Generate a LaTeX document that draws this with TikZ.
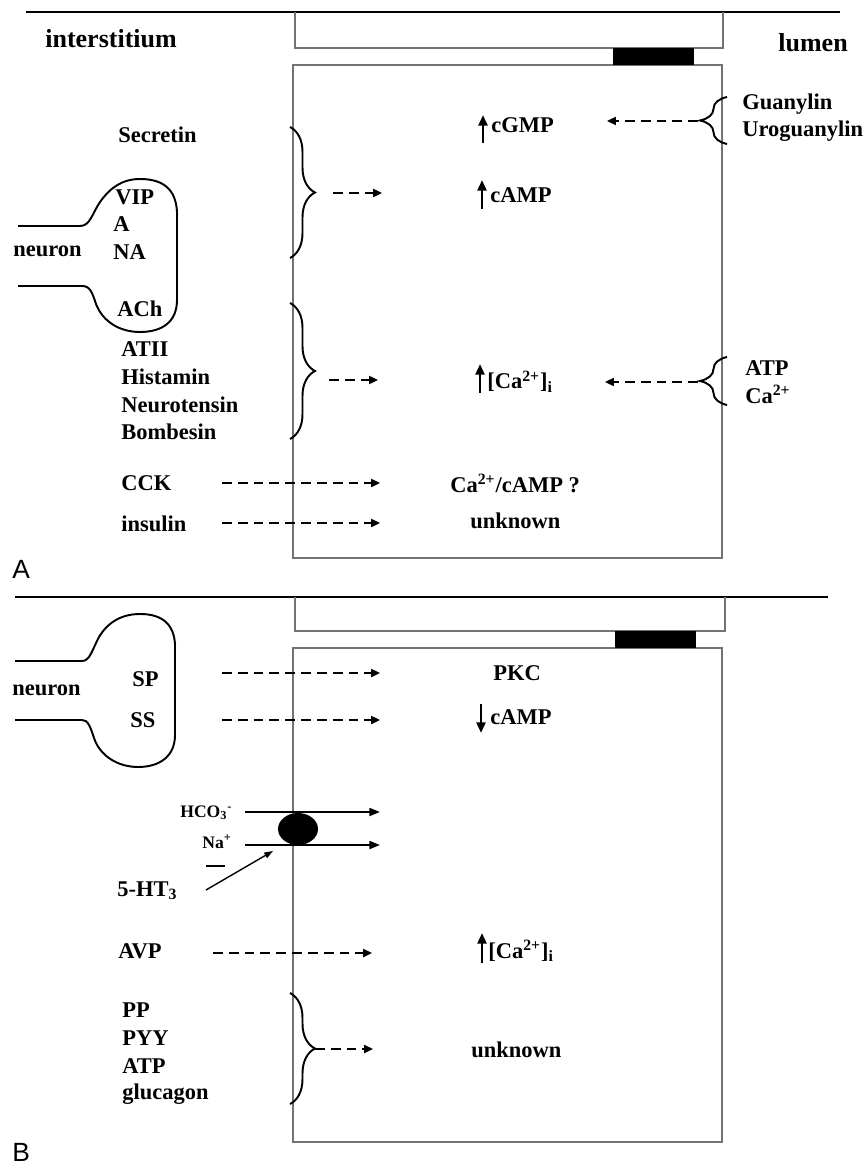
\documentclass[tikz,border=0pt]{standalone}
\usepackage{fontspec}
\setmainfont{Liberation Serif}
\newfontfamily\panelfont{Liberation Sans}
\usetikzlibrary{arrows.meta,decorations.pathreplacing}

\tikzstyle{sheet line}=[black, line width=1.2pt]
\tikzstyle{membrane}=[draw=black!55, line width=0.8pt]
\tikzstyle{junction}=[fill=black]
\tikzstyle{txt}=[inner sep=0pt, anchor=base west, font=\fontsize{12.8}{14}\selectfont\bfseries]
\tikzstyle{big txt}=[txt, font=\fontsize{14.8}{16}\selectfont\bfseries]
\tikzstyle{ion}=[txt, font=\fontsize{10}{11}\selectfont\bfseries]
\tikzstyle{panel}=[inner sep=0pt, anchor=base west, font=\fontsize{15}{17}\selectfont\panelfont]
\tikzstyle{messenger}=[dash pattern=on 5.6pt off 3.4pt, line width=1.1pt, -{Triangle[length=5pt,width=4.5pt]}]
\tikzstyle{flux}=[line width=1.1pt, -{Triangle[length=6pt,width=4.5pt]}]
\tikzstyle{rise}=[line width=1.5pt, -{Triangle[length=6pt,width=5pt]}]
\tikzstyle{group brace}=[line width=1.1pt, decorate, decoration={brace, amplitude=0.5cm}]
\tikzstyle{lumen brace}=[line width=1.1pt, decorate, decoration={brace, amplitude=0.54cm}]
\tikzstyle{neuron}=[line width=1.1pt]

\begin{document}
\begin{tikzpicture}[x=0.02cm, y=-0.02cm]
	\useasboundingbox (0,0) rectangle (865,1165);

	% Panel A: epithelium
	\draw[sheet line] (26,12) -- (840,12);
	\draw[membrane] (295,12) -- (295,48) -- (723,48) -- (723,12);
	\draw[membrane] (293,65) rectangle (722,558);
	\fill[junction] (613,48) rectangle (694,65);

	\node[big txt] (interA) at (45,48) {interstitium};
	\node[big txt] (lumenA) at (778,52) {lumen};
	\node[panel] (panelA) at (12,578) {A};

	% neuron A
	\draw[neuron] (18,226) -- (80,226)
		.. controls (90,226) and (92,214) .. (100,202)
		.. controls (110,188) and (122,179) .. (140,179)
		.. controls (166,179) and (178,192) .. (177,218)
		-- (177,300)
		.. controls (177,322) and (162,332) .. (140,332)
		.. controls (120,332) and (103,322) .. (96,304)
		.. controls (92,292) and (90,286) .. (82,286) -- (18,286);
	\node[txt] (neuronA) at (13,257) {neuron};
	\node[txt] (vip) at (115,205) {VIP};
	\node[txt] (adr) at (113,232) {A};
	\node[txt] (nadr) at (113,260) {NA};
	\node[txt] (ach) at (117,317) {ACh};

	% basolateral agonists
	\node[txt] (secretin) at (118,143) {Secretin};
	\foreach \name/\txt/\y in {atii/ATII/357, histamin/Histamin/384, neurotensin/Neurotensin/412, bombesin/Bombesin/439}{
		\node[txt] (\name) at (121,\y) {\txt};
	}
	\node[txt] (cck) at (121,490) {CCK};
	\node[txt] (insulin) at (121,531) {insulin};

	\draw[group brace] (290,127) -- (290,258);
	\draw[group brace] (290,303) -- (290,439);
	\coordinate (campin) at (333,193);
	\coordinate (campend) at (382,193);
	\coordinate (cain) at (329,380);
	\coordinate (caend) at (378,380);
	\draw[messenger] (campin) -- (campend);
	\draw[messenger] (cain) -- (caend);

	\coordinate (cckout) at (222,483);
	\coordinate (cckend) at (380,483);
	\coordinate (insout) at (222,523);
	\coordinate (insend) at (380,523);
	\draw[messenger] (cckout) -- (cckend);
	\draw[messenger] (insout) -- (insend);

	% second messengers A
	\node[txt] (cgmp) at (491,133) {cGMP};
	\node[txt] (campA) at (490,203) {cAMP};
	\node[txt] (caA) at (487,389) {[Ca\textsuperscript{2+}]\textsubscript{i}};
	\node[txt] (cacamp) at (450,492) {Ca\textsuperscript{2+}/cAMP ?};
	\node[txt] (unknownA) at (470,528) {unknown};
	\draw[rise] (483,143) -- (483,115);
	\draw[rise] (482,209) -- (482,180);
	\draw[rise] (480,393) -- (480,364);

	% luminal agonists
	\node[txt] (guanylin) at (742,110) {Guanylin};
	\node[txt] (uroguanylin) at (742,137) {Uroguanylin};
	\node[txt] (atpL) at (745,376) {ATP};
	\node[txt] (caL) at (745,403) {Ca\textsuperscript{2+}};
	\draw[lumen brace] (727,144) -- (727,97);
	\draw[lumen brace] (727,405) -- (727,357);
	\coordinate (guaout) at (698,121);
	\coordinate (guaend) at (607,121);
	\coordinate (atpout) at (698,382);
	\coordinate (atpend) at (605,382);
	\draw[messenger] (guaout) -- (guaend);
	\draw[messenger] (atpout) -- (atpend);

	% Panel B: epithelium
	\draw[sheet line] (15,597) -- (828,597);
	\draw[membrane] (295,597) -- (295,631) -- (725,631) -- (725,597);
	\draw[membrane] (293,648) rectangle (722,1142);
	\fill[junction] (615,631) rectangle (696,648);
	\node[panel] (panelB) at (12,1161) {B};

	% neuron B
	\draw[neuron] (15,661) -- (82,661)
		.. controls (90,661) and (92,650) .. (99,637)
		.. controls (108,622) and (122,614) .. (140,614)
		.. controls (164,614) and (176,626) .. (175,650)
		-- (175,735)
		.. controls (175,756) and (160,767) .. (138,767)
		.. controls (118,767) and (100,756) .. (94,738)
		.. controls (90,726) and (88,720) .. (82,720) -- (15,720);
	\node[txt] (neuronB) at (12,695) {neuron};
	\node[txt] (sp) at (132,686) {SP};
	\node[txt] (ss) at (130,727) {SS};
	\coordinate (spout) at (222,673);
	\coordinate (spend) at (380,673);
	\coordinate (ssout) at (222,720);
	\coordinate (ssend) at (380,720);
	\draw[messenger] (spout) -- (spend);
	\draw[messenger] (ssout) -- (ssend);
	\node[txt] (pkc) at (493,680) {PKC};
	\node[txt] (campB) at (490,724) {cAMP};
	\draw[rise] (481,704) -- (481,733);

	% Na+/HCO3- cotransporter
	\node[ion] (hco) at (180,817) {HCO\textsubscript{3}\textsuperscript{-}};
	\node[ion] (na) at (202,848) {Na\textsuperscript{+}};
	\coordinate (hcoin) at (245,812);
	\coordinate (hcoend) at (380,812);
	\coordinate (nain) at (245,845);
	\coordinate (naend) at (380,845);
	\draw[flux] (hcoin) -- (hcoend);
	\draw[flux] (nain) -- (naend);
	\fill (298,829) ellipse [x radius=20, y radius=16];
	\node[txt] (ht) at (117,896) {5-HT\textsubscript{3}};
	\draw[line width=1.4pt] (206,866) -- (225,866);
	\coordinate (htout) at (206,890);
	\coordinate (htend) at (273,851);
	\draw[line width=0.8pt, -{Triangle[length=5pt,width=3.5pt]}] (htout) -- (htend);

	\node[txt] (avp) at (118,958) {AVP};
	\coordinate (avpout) at (213,953);
	\coordinate (avpend) at (372,953);
	\draw[messenger] (avpout) -- (avpend);
	\node[txt] (caB) at (488,958) {[Ca\textsuperscript{2+}]\textsubscript{i}};
	\draw[rise] (482,963) -- (482,933);

	\foreach \name/\txt/\y in {pp/PP/1017, pyy/PYY/1045, atpB/ATP/1073, glucagon/glucagon/1099}{
		\node[txt] (\name) at (122,\y) {\txt};
	}
	\draw[group brace] (290,993) -- (290,1104);
	\coordinate (ppin) at (315,1049);
	\coordinate (ppend) at (373,1049);
	\draw[messenger] (ppin) -- (ppend);
	\node[txt] (unknownB) at (471,1057) {unknown};
\end{tikzpicture}
\end{document}
